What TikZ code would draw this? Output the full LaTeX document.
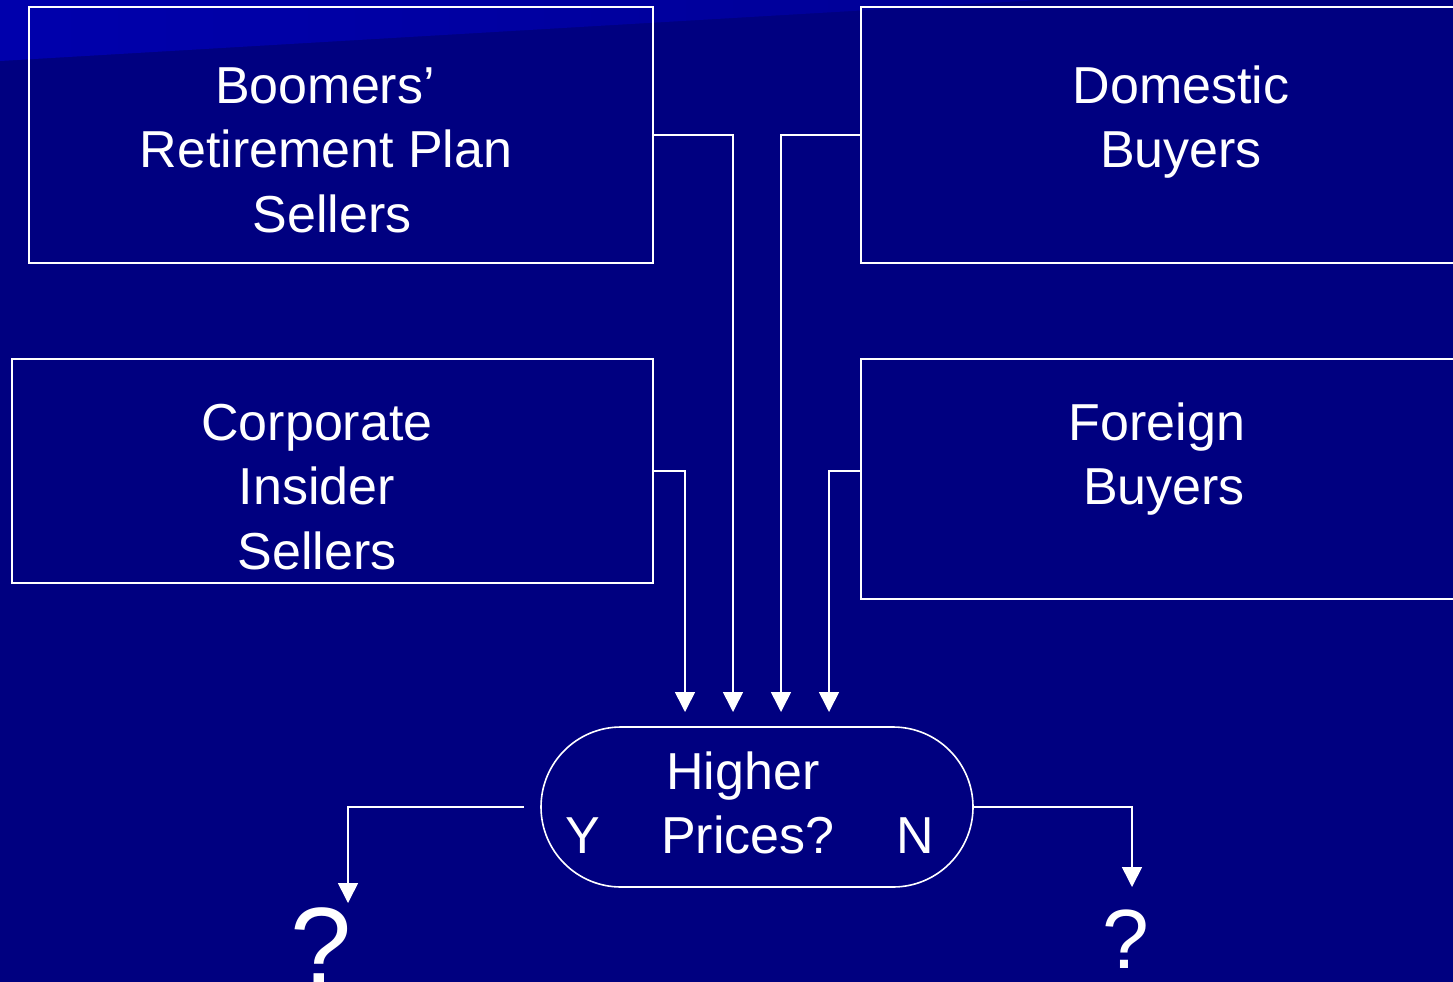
\documentclass[tikz,border=0pt]{standalone}
\usepackage{fontspec}
\setmainfont{Liberation Sans}
\usetikzlibrary{arrows.meta,shapes.misc}
\definecolor{navy}{RGB}{0,0,128}
\definecolor{bandlight}{RGB}{0,0,172}
\definecolor{banddark}{RGB}{0,0,150}
\begin{document}
\begin{tikzpicture}[x=1pt,y=-1pt,
  line/.style={draw=white,line width=1.6pt},
  box/.style={line,rectangle,inner sep=0pt},
  lbl/.style={text=white,font=\fontsize{52}{64.5}\selectfont,anchor=base,inner sep=0pt},
  arr/.style={line,-{Triangle[width=20pt,length=20pt]}}]
\useasboundingbox (0,0) rectangle (1453,982);
\clip (0,0) rectangle (1453,982);
\fill[navy] (0,0) rectangle (1453,982);
\shade[left color=bandlight,right color=banddark] (0,0) -- (1040,0) -- (0,61) -- cycle;

% boxes
\node[box,minimum width=624pt,minimum height=256pt] (boom) at (341,135) {};
\node[box,minimum width=610pt,minimum height=256pt] (dom) at (1166,135) {};
\node[box,minimum width=641pt,minimum height=224pt] (corp) at (332.5,471) {};
\node[box,minimum width=610pt,minimum height=240pt] (for) at (1166,479) {};
\node[line,shape=rounded rectangle,inner sep=0pt,minimum width=432pt,minimum height=160pt] (term) at (757,807) {};

% texts
\node[lbl] (t1a) at (325,103) {Boomers’};
\node[lbl] (t1b) at (326,167.5) {Retirement Plan};
\node[lbl] (t1c) at (332,232) {Sellers};
\node[lbl] (t2a) at (1181,103) {Domestic};
\node[lbl] (t2b) at (1181,167.5) {Buyers};
\node[lbl] (t3a) at (317,440) {Corporate};
\node[lbl] (t3b) at (317,504.5) {Insider};
\node[lbl] (t3c) at (317,569) {Sellers};
\node[lbl] (t4a) at (1157,440) {Foreign};
\node[lbl] (t4b) at (1164,504.5) {Buyers};
\node[lbl] (t5a) at (743,789) {Higher};
\node[lbl] (t5b) at (748,853) {Prices?};
\node[lbl] (ty) at (583,853) {Y};
\node[lbl] (tn) at (915,853) {N};
\node[lbl,font=\fontsize{110}{120}\selectfont] (q1) at (321,984) {?};
\node[lbl,font=\fontsize{84}{90}\selectfont,text depth=0pt] (q2) at (1126,968) {?};

% arrow end points
\coordinate (a1) at (685,712);
\coordinate (a2) at (733,712);
\coordinate (a3) at (781,712);
\coordinate (a4) at (829,712);
\coordinate (ay) at (348,903);
\coordinate (an) at (1132,887);

\draw[arr] (boom.east |- 0,135) -| (a2);
\draw[arr] (dom.west |- 0,135) -| (a3);
\draw[arr] (corp.east |- 0,471) -| (a1);
\draw[arr] (for.west |- 0,471) -| (a4);
\draw[arr,shorten <=16pt] (term.west) -| (ay);
\draw[arr] (term.east) -| (an);
\end{tikzpicture}
\end{document}
